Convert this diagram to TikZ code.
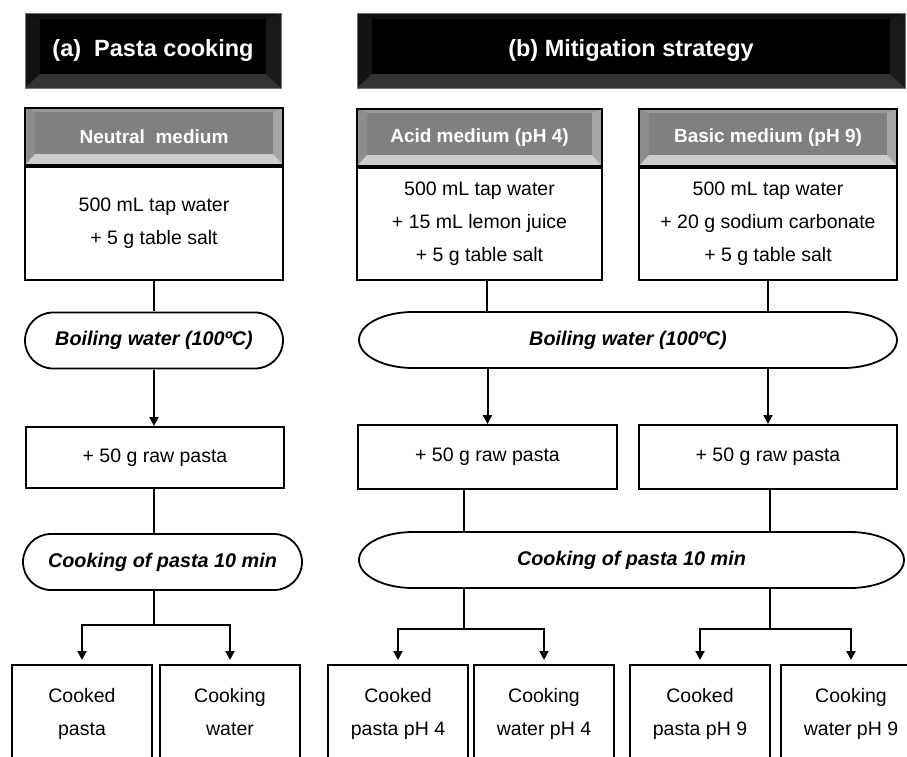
\documentclass[tikz,border=0pt]{standalone}
\usepackage{fontspec}
\setmainfont{Liberation Sans}
\usetikzlibrary{positioning,arrows.meta}

\tikzset{
  bevel/.style n args={7}{path picture={
    \fill[#4] (path picture bounding box.north west) -- (path picture bounding box.north east)
      -- ([shift={(-#1,-#2)}]path picture bounding box.north east)
      -- ([shift={(#1,-#2)}]path picture bounding box.north west) -- cycle;
    \fill[#5] (path picture bounding box.north west) -- ([shift={(#1,-#2)}]path picture bounding box.north west)
      -- ([shift={(#1,#3)}]path picture bounding box.south west) -- (path picture bounding box.south west) -- cycle;
    \fill[#6] (path picture bounding box.north east) -- ([shift={(-#1,-#2)}]path picture bounding box.north east)
      -- ([shift={(-#1,#3)}]path picture bounding box.south east) -- (path picture bounding box.south east) -- cycle;
    \fill[#7] (path picture bounding box.south west) -- ([shift={(#1,#3)}]path picture bounding box.south west)
      -- ([shift={(-#1,#3)}]path picture bounding box.south east) -- (path picture bounding box.south east) -- cycle;
  }},
}

\begin{document}
\begin{tikzpicture}[x=1pt, y=-1pt,
    every node/.style={inner sep=0pt, align=center},
    title/.style={rectangle, fill=black, draw=black!55, line width=0.8pt, text=white,
      font=\bfseries\fontsize{23.5}{28}\selectfont,
      bevel={15pt}{6pt}{14pt}{black!94}{black!92}{black!90}{black!80}},
    header/.style={rectangle, fill=black!50, draw=black, line width=2pt, text=white,
      font=\bfseries\fontsize{19}{22}\selectfont,
      bevel={10pt}{4pt}{11pt}{black!40}{black!45}{black!35}{black!20}},
    box/.style={rectangle, draw=black, line width=2pt, fill=white,
      font=\fontsize{19.5}{33}\selectfont},
    pill/.style={rectangle, minimum height=58pt, font=\bfseries\itshape\fontsize{19.8}{23}\selectfont,
      path picture={
        \draw[line width=1.8pt] ([shift={(#1,-1pt)}]path picture bounding box.north west)
          -- ([shift={(-#1,-1pt)}]path picture bounding box.north east)
          arc[start angle=90, end angle=-90, x radius=#1-1pt, y radius=28pt]
          -- ([shift={(#1,1pt)}]path picture bounding box.south west)
          arc[start angle=270, end angle=90, x radius=#1-1pt, y radius=28pt] -- cycle;}},
    wire/.style={line width=2pt},
    arrow/.style={line width=2pt, -{Triangle[width=9pt,length=9pt]}},
  ]
  \useasboundingbox (0,0) rectangle (907,756);

  % Draw the headings
  \node[title, minimum width=256, minimum height=75] (ta) at (153,50.5) {(a)\ \ Pasta cooking};
  \node[title, minimum width=548, minimum height=75] (tb) at (631,50.5) {(b) Mitigation strategy};

  % Draw the media
  \node[header, minimum width=258, minimum height=57] (hn) at (154,136.5) {Neutral\ \ medium};
  \node[box, minimum width=258, minimum height=113, below=0pt of hn] (mn) {500 mL tap water\\+ 5 g table salt};
  \node[header, minimum width=245, minimum height=57] (ha) at (479.5,137.5) {Acid medium (pH 4)};
  \node[box, minimum width=245, minimum height=112, below=0pt of ha] (ma) {500 mL tap water\\+ 15 mL lemon juice\\+ 5 g table salt};
  \node[header, minimum width=258, minimum height=57] (hb) at (768,137.5) {Basic medium (pH 9)};
  \node[box, minimum width=258, minimum height=112, below=0pt of hb] (mb) {500 mL tap water\\+ 20 g sodium carbonate\\+ 5 g table salt};

  % Draw the boiling steps
  \node[pill=29pt, minimum width=260] (bn) at (154,340.5) {Boiling water (100ºC)};
  \node[pill=55pt, minimum width=540] (ba) at (628,340) {Boiling water (100ºC)};

  % Draw the pasta boxes
  \node[box, minimum width=258, minimum height=61] (rn) at (155,457.5) {+ 50 g raw pasta};
  \node[box, minimum width=259, minimum height=64] (ra) at (487.5,457) {+ 50 g raw pasta};
  \node[box, minimum width=258, minimum height=64] (rb) at (768,457) {+ 50 g raw pasta};

  % Draw the cooking steps
  \node[pill=29pt, minimum width=281] (cn) at (162.5,562) {Cooking of pasta 10 min};
  \node[pill=55pt, minimum width=547] (ca) at (631.5,560) {Cooking of pasta 10 min};

  % Draw the samples
  \node[box, minimum width=140, minimum height=103] (pn) at (82,716.5) {Cooked\\pasta\strut};
  \node[box, minimum width=140, minimum height=103] (wn) at (230,716.5) {Cooking\\water\strut};
  \node[box, minimum width=140, minimum height=103] (pa) at (398,716.5) {Cooked\\pasta pH 4\strut};
  \node[box, minimum width=140, minimum height=103] (wa) at (544,716.5) {Cooking\\water pH 4\strut};
  \node[box, minimum width=140, minimum height=103] (pb) at (700,716.5) {Cooked\\pasta pH 9\strut};
  \node[box, minimum width=140, minimum height=103] (wb) at (851,716.5) {Cooking\\water pH 9\strut};

  % Connect the left column
  \draw[wire] (mn.south) -- (mn.south |- bn.north);
  \draw[arrow] (bn.south) -- (bn.south |- rn.north);
  \draw[wire] (bn.south |- rn.south) -- (bn.south |- cn.north);
  \draw[wire] (bn.south |- cn.south) -- ++(0,34) coordinate (sn);
  \draw[arrow, shorten >=4pt] (sn) -| (pn.north);
  \draw[arrow, shorten >=4pt] (sn) -| (wn.north);

  % Connect the right columns
  \draw[wire] ([xshift=7.5pt]ma.south) -- ([xshift=7.5pt]ma.south |- ba.north);
  \draw[wire] (mb.south) -- (mb.south |- ba.north);
  \draw[arrow] (ba.south -| ra.north) -- (ra.north);
  \draw[arrow] (ba.south -| rb.north) -- (rb.north);
  \draw[wire] ([xshift=-24pt]ra.south) -- ([xshift=-24pt]ra.south |- ca.north);
  \draw[wire] ([xshift=2pt]rb.south) -- ([xshift=2pt]rb.south |- ca.north);
  \draw[wire] ([xshift=-24pt]ra.south |- ca.south) -- ++(0,40) coordinate (sa);
  \draw[wire] ([xshift=2pt]rb.south |- ca.south) -- ++(0,40) coordinate (sb);
  \draw[arrow, shorten >=4pt] (sa) -| (pa.north);
  \draw[arrow, shorten >=4pt] (sa) -| (wa.north);
  \draw[arrow, shorten >=4pt] (sb) -| (pb.north);
  \draw[arrow, shorten >=4pt] (sb) -| (wb.north);
\end{tikzpicture}
\end{document}
